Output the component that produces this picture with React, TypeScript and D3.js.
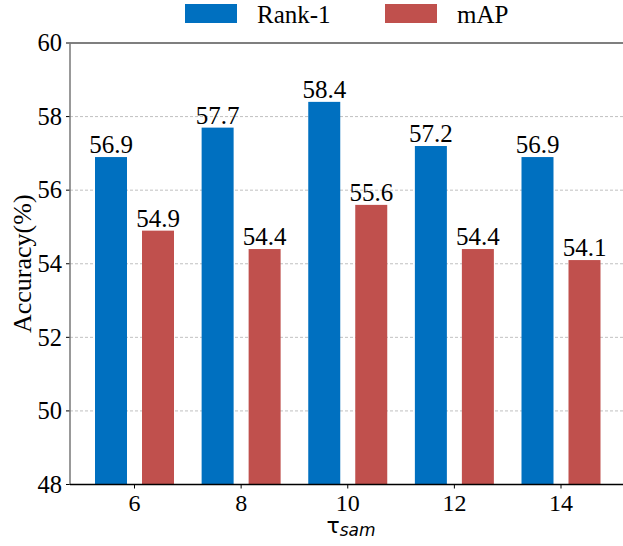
import React from "react";
import * as d3 from "d3";

const categories = ["6", "8", "10", "12", "14"];
const rank1 = [56.9, 57.7, 58.4, 57.2, 56.9];
const mAP = [54.9, 54.4, 55.6, 54.4, 54.1];
const yTicks = [48, 50, 52, 54, 56, 58, 60];
const seriesNames = ["Rank-1", "mAP"];
const colors = ["#0070C0", "#C0504D"];

export default function App() {
  const W = 623, H = 546;
  const left = 70, right = 623, top = 43, bottom = 484.5;
  const y = d3.scaleLinear().domain([48, 60]).range([bottom, top]);
  const x = d3.scalePoint<string>().domain(categories).range([134.5, 561]);
  const bw = 32, off = 23.5;
  const font = "'Liberation Serif', 'Times New Roman', serif";
  const series = [rank1, mAP];
  const legendX = [185, 385];
  return (
    <svg width={W} height={H} style={{ position: "absolute", left: 0, top: 0, background: "#fff" }}>
      {yTicks.map((t) => (
        <g key={t}>
          {t !== 48 && t !== 60 && (
            <line x1={left} x2={right} y1={y(t)} y2={y(t)} stroke="#b0b0b0" strokeWidth={0.8} strokeDasharray="3,2" />
          )}
          <line x1={left - 4} x2={left} y1={y(t)} y2={y(t)} stroke="#000" strokeWidth={1} />
          <text x={left - 8} y={y(t)} dy="0.34em" textAnchor="end" fontFamily={font} fontSize={24.5} fill="#000">{t}</text>
        </g>
      ))}
      <line x1={left} x2={right} y1={y(60)} y2={y(60)} stroke="#555" strokeWidth={1.5} />
      {series.map((vals, si) =>
        vals.map((v, i) => {
          const cx = (x(categories[i]) as number) + (si === 0 ? -off : off);
          return (
            <g key={`${si}-${i}`}>
              <rect x={cx - bw / 2} y={y(v)} width={bw} height={y(48) - y(v)} fill={colors[si]} />
              <text x={cx} y={y(v) - 4} textAnchor="middle" fontFamily={font} fontSize={25} fill="#000">{v.toFixed(1)}</text>
            </g>
          );
        })
      )}
      <line x1={left} x2={left} y1={top} y2={bottom} stroke="#777" strokeWidth={1.5} />
      <line x1={left} x2={right} y1={bottom} y2={bottom} stroke="#000" strokeWidth={1.5} />
      {categories.map((c) => (
        <g key={c}>
          <line x1={x(c) as number} x2={x(c) as number} y1={bottom} y2={bottom + 4} stroke="#000" strokeWidth={1} />
          <text x={x(c) as number} y={bottom + 26} textAnchor="middle" fontFamily={font} fontSize={24} fill="#000">{c}</text>
        </g>
      ))}
      <text x={351} y={533} textAnchor="middle" fill="#000">
        <tspan fontFamily="'DejaVu Sans', sans-serif" fontSize={22}>τ</tspan>
        <tspan fontFamily="'DejaVu Sans', sans-serif" fontStyle="italic" fontSize={17} dy={3}>sam</tspan>
      </text>
      <text transform={`translate(31, ${(top + bottom) / 2}) rotate(-90)`} textAnchor="middle" fontFamily={font} fontSize={26} fill="#000">Accuracy(%)</text>
      {seriesNames.map((n, i) => (
        <g key={n}>
          <rect x={legendX[i]} y={4} width={52} height={19} fill={colors[i]} />
          <text x={legendX[i] + 72} y={22.5} fontFamily={font} fontSize={25} fill="#000">{n}</text>
        </g>
      ))}
    </svg>
  );
}
